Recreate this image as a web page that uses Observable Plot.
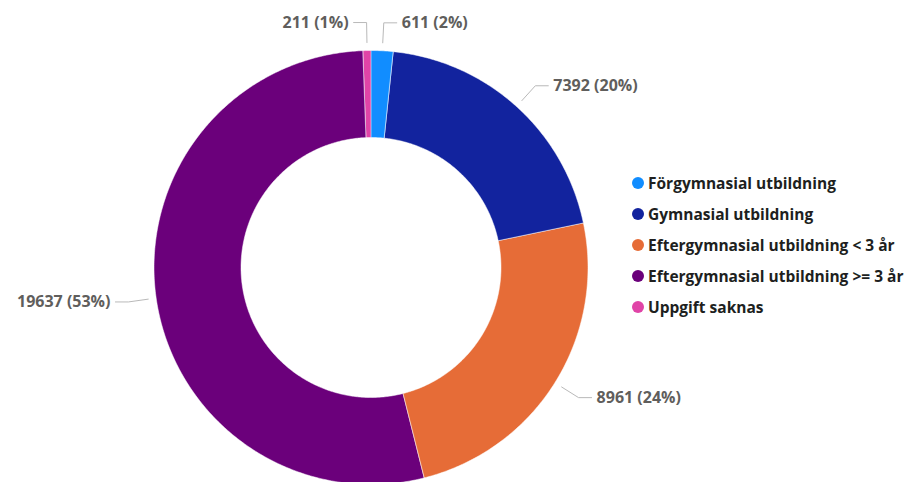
<!DOCTYPE html>
<html>
<head>
<meta charset="utf-8">
<script src="https://cdn.jsdelivr.net/npm/d3@7"></script>
<script src="https://cdn.jsdelivr.net/npm/@observablehq/plot@0.6"></script>
<style>
  body { margin: 0; background: #fff; font-family: "Open Sans", "Noto Sans", sans-serif; }
  #wrap { position: relative; width: 914px; height: 482px; overflow: hidden; }
  #legend { position: absolute; left: 632px; top: 167px; }
  .item { display: flex; align-items: center; height: 31.2px; font-weight: 700; font-size: 15.5px; color: #201f1e; white-space: nowrap; }
  .sw { width: 12px; height: 12px; border-radius: 50%; margin-right: 4px; flex: none; }
</style>
</head>
<body>
<div id="wrap"><div id="legend"></div></div>
<script>
const categories = [
  "Förgymnasial utbildning",
  "Gymnasial utbildning",
  "Eftergymnasial utbildning < 3 år",
  "Eftergymnasial utbildning >= 3 år",
  "Uppgift saknas"
];
const values = [611, 7392, 8961, 19637, 211];
const colors = ["#118DFF", "#12239E", "#E66C37", "#6B007B", "#E044A7"];

const W = 914, H = 482;
const cx = 370.5, cy = 267, R = 217, r0 = 130;

const total = d3.sum(values);
const pie = d3.pie().sort(null).value(d => d.value)(categories.map((c, i) => ({cat: c, value: values[i]})));

// polygon vertices of each slice
const slicePts = [];
for (const s of pie) {
  const n = Math.max(4, Math.ceil((s.endAngle - s.startAngle) / 0.01));
  for (let k = 0; k <= n; k++) {
    const a = s.startAngle + (s.endAngle - s.startAngle) * k / n;
    slicePts.push({cat: s.data.cat, x: cx + R * Math.sin(a), y: cy - R * Math.cos(a)});
  }
  for (let k = n; k >= 0; k--) {
    const a = s.startAngle + (s.endAngle - s.startAngle) * k / n;
    slicePts.push({cat: s.data.cat, x: cx + r0 * Math.sin(a), y: cy - r0 * Math.cos(a)});
  }
}

// leader lines and labels
const leaderPts = [];
const labels = [];
for (const s of pie) {
  const a = (s.startAngle + s.endAngle) / 2;
  const right = Math.sin(a) >= 0;
  const p1 = {x: cx + (R + 8) * Math.sin(a), y: cy - (R + 8) * Math.cos(a)};
  const p2 = {x: cx + (R + 28) * Math.sin(a), y: cy - (R + 28) * Math.cos(a)};
  const p3 = {x: p2.x + (right ? 13 : -13), y: p2.y};
  for (const p of [p1, p2, p3]) leaderPts.push({cat: s.data.cat, ...p});
  labels.push({
    cat: s.data.cat, right,
    x: p3.x + (right ? 5 : -5), y: p3.y,
    text: `${s.data.value} (${Math.round(s.data.value / total * 100)}%)`
  });
}

const chart = Plot.plot({
  width: W, height: H,
  margin: 0,
  x: {domain: [0, W], range: [0, W], axis: null},
  y: {domain: [0, H], range: [0, H], axis: null},
  color: {domain: categories, range: colors},
  style: {fontFamily: '"Open Sans", "Noto Sans", sans-serif', background: "#fff"},
  marks: [
    Plot.line(slicePts, {x: "x", y: "y", z: "cat", fill: "cat", stroke: "white", strokeWidth: 0.5, curve: "linear-closed"}),
    Plot.line(leaderPts, {x: "x", y: "y", z: "cat", stroke: "#b9b9b9", strokeWidth: 1}),
    Plot.text(labels.filter(d => d.right), {x: "x", y: "y", text: "text", textAnchor: "start", fill: "#605E5C", fontSize: 16, fontWeight: 700}),
    Plot.text(labels.filter(d => !d.right), {x: "x", y: "y", text: "text", textAnchor: "end", fill: "#605E5C", fontSize: 16, fontWeight: 700})
  ]
});
document.getElementById("wrap").prepend(chart);

const legend = d3.select("#legend");
categories.forEach((c, i) => {
  const it = legend.append("div").attr("class", "item");
  it.append("div").attr("class", "sw").style("background", colors[i]);
  it.append("span").text(c);
});
</script>
</body>
</html>
